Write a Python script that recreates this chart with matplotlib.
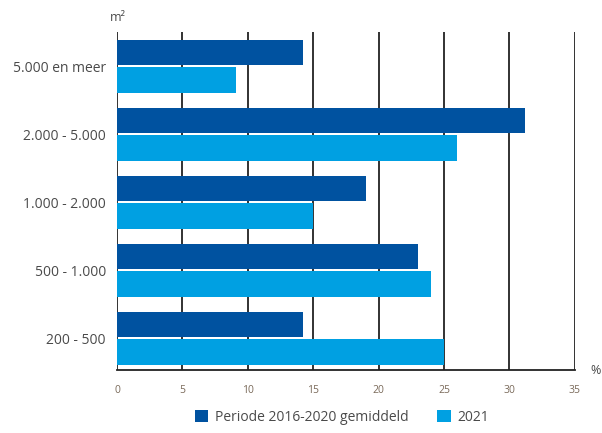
import matplotlib.pyplot as plt
import numpy as np

plt.rcParams['font.family'] = ['Open Sans', 'DejaVu Sans']

categories = ["5.000 en meer", "2.000 - 5.000", "1.000 - 2.000", "500 - 1.000", "200 - 500"]
periode = [14.2, 31.2, 19.0, 23.0, 14.2]
jaar_2021 = [9.1, 26.0, 15.0, 24.0, 25.0]
xticks = [0, 5, 10, 15, 20, 25, 30, 35]

donker = "#0052a0"
licht = "#00a0e2"
tekst = "#4a4a4a"

fig = plt.figure(figsize=(6.02, 4.33), dpi=100)
ax = fig.add_axes([0.1944, 0.1455, 0.7606, 0.7805])

y = np.arange(len(categories))
h = 0.38
ax.barh(y - 0.2, periode, height=h, color=donker, label="Periode 2016-2020 gemiddeld", zorder=3)
ax.barh(y + 0.2, jaar_2021, height=h, color=licht, label="2021", zorder=3)

ax.set_xlim(0, 35)
ax.set_ylim(4.47, -0.5)
ax.set_xticks(xticks)
ax.set_xticklabels([str(t) for t in xticks], fontsize=7.5, color="#7a6a5a")
ax.set_yticks(y)
ax.set_yticklabels(categories, fontsize=10, color=tekst)
ax.tick_params(axis="x", length=0, pad=11)
ax.tick_params(axis="y", length=0, pad=8)

ax.grid(axis="x", color="#222222", linewidth=1.3, zorder=1)
for s in ["top", "right", "left"]:
    ax.spines[s].set_visible(False)
ax.spines["bottom"].set_color("#222222")
ax.spines["bottom"].set_linewidth(1.3)

fig.text(0.196, 0.96, "m²", fontsize=9, color=tekst, ha="center", va="center")
fig.text(0.99, 0.145, "%", fontsize=9, color=tekst, ha="center", va="center")

fig.legend(loc="center", bbox_to_anchor=(0.568, 0.036), ncol=2, frameon=False,
           fontsize=10, labelcolor=tekst, handlelength=1.0, handleheight=1.0,
           columnspacing=2.0, handletextpad=0.5)

fig.savefig("out.png", dpi=100)
